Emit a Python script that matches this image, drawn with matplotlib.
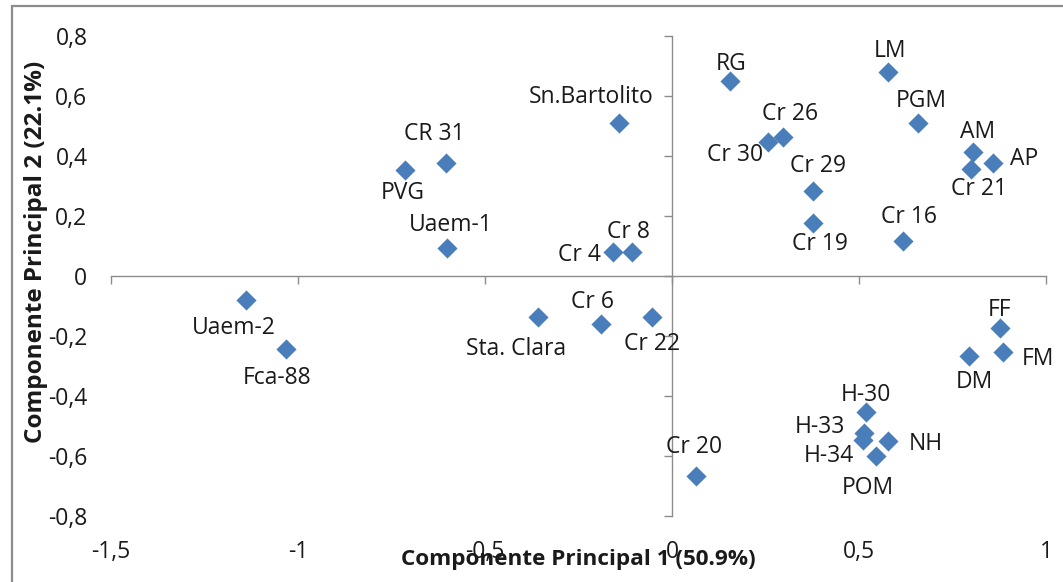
import matplotlib
matplotlib.use("Agg")
import matplotlib.pyplot as plt
from matplotlib.patches import Rectangle
from matplotlib.ticker import FuncFormatter

# ---------------- data ----------------
names = ["Uaem-2", "Fca-88", "Sta. Clara", "Cr 6", "Cr 22", "Cr 20",
         "H-30", "H-33", "H-34", "NH", "POM", "DM", "FF", "FM",
         "PVG", "CR 31", "Uaem-1", "Sn.Bartolito", "Cr 4", "Cr 8",
         "RG", "Cr 30", "Cr 26", "Cr 29", "Cr 19", "LM", "PGM",
         "AM", "Cr 21", "AP", "Cr 16"]
pc1 = [-1.139, -1.033, -0.359, -0.190, -0.054, 0.064,
       0.518, 0.513, 0.511, 0.577, 0.545, 0.795, 0.877, 0.886,
       -0.714, -0.605, -0.602, -0.141, -0.157, -0.108,
       0.155, 0.258, 0.296, 0.378, 0.378, 0.577, 0.659,
       0.806, 0.799, 0.857, 0.617]
pc2 = [-0.080, -0.243, -0.136, -0.161, -0.136, -0.667,
       -0.454, -0.522, -0.547, -0.549, -0.600, -0.267, -0.172, -0.252,
       0.353, 0.378, 0.092, 0.511, 0.081, 0.081,
       0.651, 0.448, 0.464, 0.284, 0.178, 0.681, 0.509,
       0.414, 0.356, 0.376, 0.118]
x_ticks = [-1.5, -1.0, -0.5, 0.0, 0.5, 1.0]
y_ticks = [-0.8, -0.6, -0.4, -0.2, 0.0, 0.2, 0.4, 0.6, 0.8]
x_title = "Componente Principal 1 (50.9%)"
y_title = "Componente Principal 2 (22.1%)"

# label offsets in pixels (dx, dy downward) and alignment
label_pos = [(-12, 28, "center"), (-9, 29, "center"), (-22, 32, "center"),
             (-8, -22, "center"), (0, 27, "center"), (-2, -29, "center"),
             (0, -17, "center"), (-19, -6, "right"), (-9, 16, "right"),
             (21, 3, "left"), (-8, 32, "center"), (5, 26, "center"),
             (0, -18, "center"), (18, 7, "left"),
             (-2, 23, "center"), (-11, -29, "center"), (4, -23, "center"),
             (-28, -26, "center"), (-12, 3, "right"), (-3, -20, "center"),
             (1, -17, "center"), (-5, 13, "right"), (7, -23, "center"),
             (5, -25, "center"), (7, 21, "center"), (2, -21, "center"),
             (3, -22, "center"), (4, -20, "center"), (8, 20, "center"),
             (17, -4, "left"), (6, -24, "center")]

# ---------------- figure ----------------
W, H = 1063, 582
fig = plt.figure(figsize=(W / 100, H / 100), dpi=100)
plt.rcParams["font.family"] = ["Open Sans", "DejaVu Sans"]

# outer chart border (only left/top visible in the crop)
fig.patches.append(Rectangle((12 / W, -0.1), 1.2, 1 - 6 / H + 0.1,
                             transform=fig.transFigure, fill=False,
                             edgecolor="#8c8c8c", linewidth=1.6))

left, right = 111 / W, 1046 / W
top, bottom = 1 - 36 / H, 1 - 516 / H
ax = fig.add_axes([left, bottom, right - left, top - bottom])
ax.set_xlim(-1.5, 1.0)
ax.set_ylim(-0.8, 0.8)

axis_col = "#8c8c8c"
for s in ["top", "right"]:
    ax.spines[s].set_visible(False)
ax.spines["left"].set_position(("data", 0))
ax.spines["bottom"].set_position(("data", 0))
for s in ["left", "bottom"]:
    ax.spines[s].set_color(axis_col)
    ax.spines[s].set_linewidth(1.0)
ax.set_xticks(x_ticks)
ax.set_yticks(y_ticks)
ax.tick_params(axis="both", direction="out", length=6, width=1.0,
               color=axis_col, labelleft=False, labelbottom=False)

fmt = FuncFormatter(lambda v, p: ("%g" % round(v, 2)).replace(".", ","))

# tick labels placed at the low edge (Excel style)
secy = ax.secondary_yaxis(0)
secy.set_yticks(y_ticks)
secy.yaxis.set_major_formatter(fmt)
secy.tick_params(length=0, pad=17, labelsize=16.5, labelcolor="#1a1a1a")
secy.spines["left"].set_visible(False)

secx = ax.secondary_xaxis(0)
secx.set_xticks(x_ticks)
secx.xaxis.set_major_formatter(fmt)
secx.tick_params(length=0, pad=17, labelsize=16.5, labelcolor="#1a1a1a")
secx.spines["bottom"].set_visible(False)

ax.scatter(pc1, pc2, marker="D", s=105, color="#4A7EBB", zorder=3,
           linewidths=0)

k = 0.72
for n, x, y, (dx, dy, ha) in zip(names, pc1, pc2, label_pos):
    ax.annotate(n, (x, y), xytext=(dx * k, -dy * k), textcoords="offset points",
                ha=ha, va="center", fontsize=16.5, color="#1a1a1a", zorder=4)

fig.text(578 / W, 1 - 559 / H, x_title, ha="center", va="center",
         fontsize=16.2, fontweight="bold", color="#1a1a1a")
fig.text(36 / W, 1 - 252 / H, y_title, ha="center", va="center",
         rotation=90, fontsize=17.5, fontweight="bold", color="#1a1a1a")

fig.savefig("out.png", dpi=100)
